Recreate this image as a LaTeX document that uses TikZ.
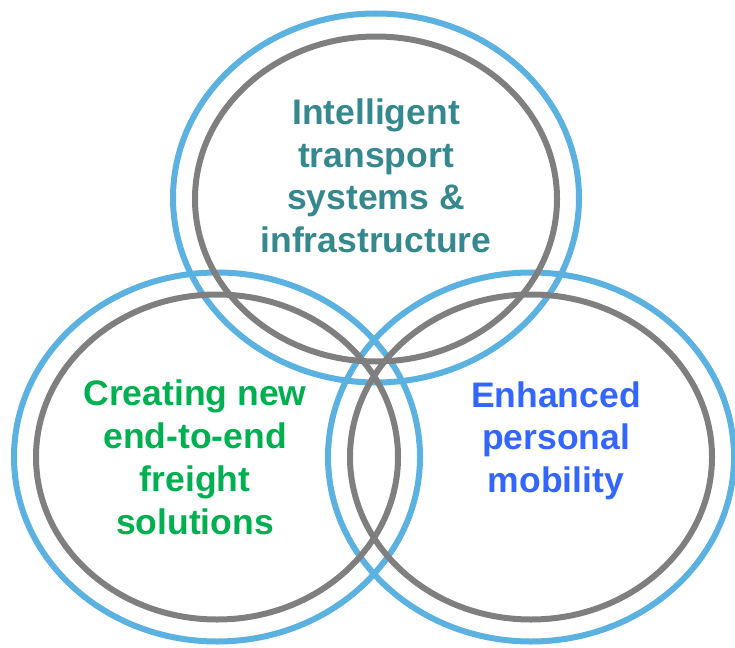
\documentclass[tikz,border=0pt]{standalone}
\usepackage{fontspec}
\setmainfont{Liberation Sans}
\definecolor{ringblue}{HTML}{5BB1DF}
\definecolor{ringgray}{HTML}{7F7F7F}
\definecolor{tealtext}{HTML}{35888D}
\definecolor{greentext}{HTML}{00B050}
\definecolor{bluetext}{HTML}{3366FF}
\newcommand{\lnstrut}{\rule[-10pt]{0pt}{40pt}}
\begin{document}
\begin{tikzpicture}[x=1pt,y=-1pt,
  outerring/.style={draw=ringblue,line width=6pt},
  innerring/.style={draw=ringgray,line width=6pt},
  label/.style={anchor=north,inner sep=0pt,align=center,
    font=\fontsize{35.5}{42.7}\selectfont\bfseries}]
\useasboundingbox (0,0) rectangle (735,647);
% outer rings
\draw[outerring] (376,198) ellipse (203 and 184.5);
\draw[outerring] (217,457) ellipse (203 and 184.5);
\draw[outerring] (531,457) ellipse (203 and 184.5);
% inner rings
\draw[innerring] (376,199) ellipse (181 and 162.5);
\draw[innerring] (217,457) ellipse (181 and 162.5);
\draw[innerring] (531,457) ellipse (181 and 162.5);
% labels
\node[label,text=tealtext] (top) at (376,94.3)
  {\lnstrut Intelligent\\\lnstrut transport\\\lnstrut systems \&\\\lnstrut infrastructure};
\node[label,text=greentext] (left) at (195,375.7)
  {\lnstrut Creating new\\\lnstrut end-to-end\\\lnstrut freight\\\lnstrut solutions};
\node[label,text=bluetext] (right) at (556,377)
  {\lnstrut Enhanced\\\lnstrut personal\\\lnstrut mobility};
\end{tikzpicture}
\end{document}
